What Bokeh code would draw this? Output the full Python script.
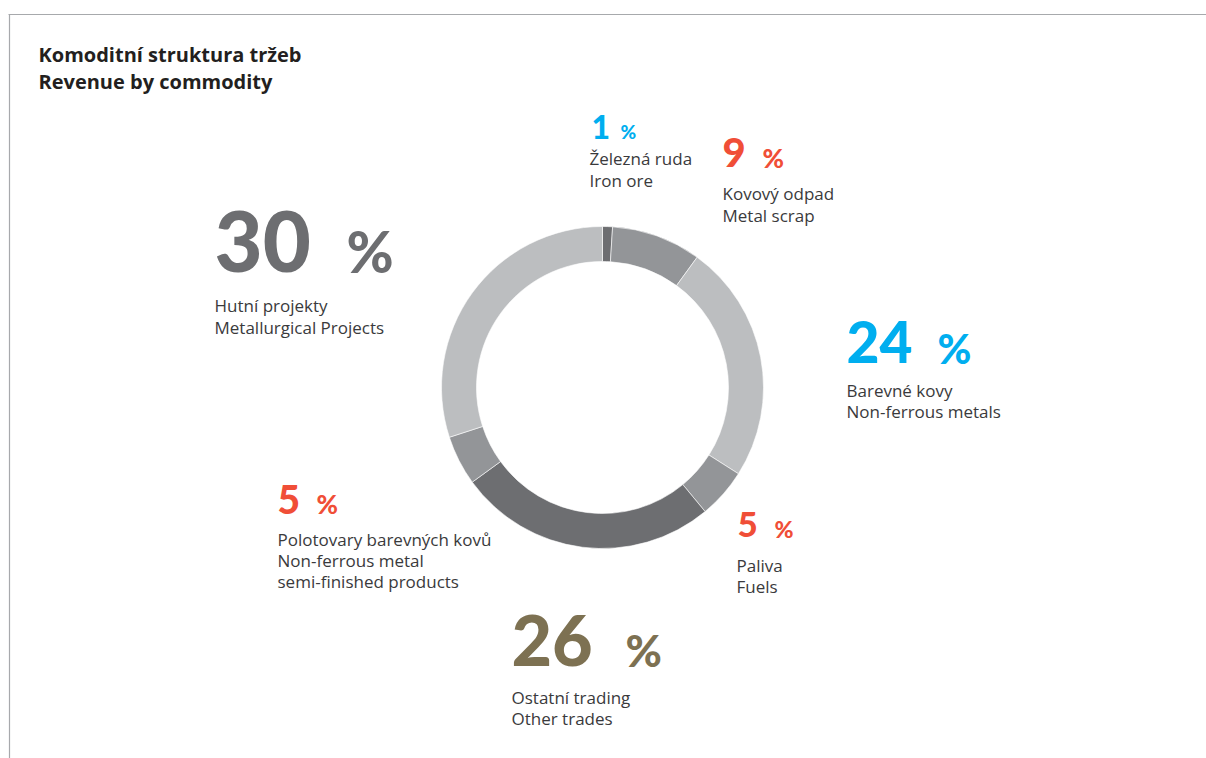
from bokeh.plotting import figure
from bokeh.models import Range1d, ColumnDataSource
from bokeh.embed import file_html
from bokeh.resources import INLINE
from bokeh.core.properties import value
import math

# ---- data ----
labels_cz = ["Železná ruda", "Kovový odpad", "Barevné kovy", "Paliva",
             "Ostatní trading", "Polotovary barevných kovů", "Hutní projekty"]
labels_en = ["Iron ore", "Metal scrap", "Non-ferrous metals", "Fuels",
             "Other trades", "Non-ferrous metal\nsemi-finished products", "Metallurgical Projects"]
shares = [1, 9, 24, 5, 26, 5, 30]
wedge_colors = ["#6d6e71", "#939598", "#bcbec0", "#939598", "#6d6e71", "#939598", "#bcbec0"]
number_colors = ["#00aeef", "#f04e37", "#00aeef", "#f04e37", "#7d7152", "#f04e37", "#6d6e71"]
title_lines = ["Komoditní struktura tržeb", "Revenue by commodity"]

# ---- layout (page pixel positions) ----
W, H = 1206, 758
def fx(px):
    return px
def fy(py):
    return H - py

NUM_FONT = "Lato Black"
FONT = "Open Sans"
K_NUM = 0.37   # baseline correction (fraction of font size)
K_TXT = 0.42

def fyt(py, size, k):
    return fy(py - k * size)

center = (602, 387)
r_outer, r_inner = 161, 126

# per label: number x, % x, number baseline, number size, % size, label x, first label baseline, line step
label_layout = [
    (591, 620, 138, 32, 19, 589, 165, 22.5),
    (722, 762, 167, 40, 26, 722, 200, 22.5),
    (846, 937, 363, 57, 41, 846, 397, 21.5),
    (737, 774, 537, 35, 23, 736, 572, 21.5),
    (511, 625, 666, 70, 44, 511, 704, 21.5),
    (277, 316, 513, 39, 26, 277, 546, 21),
    (214, 346, 272, 83, 57, 214, 312, 22),
]

p = figure(width=W, height=H, x_range=Range1d(0, W), y_range=Range1d(0, H),
           output_backend="svg", toolbar_location=None, min_border=0)
p.axis.visible = False
p.grid.visible = False
p.outline_line_color = None
p.background_fill_color = "white"
p.border_fill_color = "white"

# frame lines
p.segment(x0=[fx(8)], y0=[fy(14)], x1=[fx(1206)], y1=[fy(14)], line_color="#a7a9ac", line_width=1.2)
p.segment(x0=[fx(9)], y0=[fy(14)], x1=[fx(9)], y1=[fy(760)], line_color="#a7a9ac", line_width=1.2)

# donut
starts, ends = [], []
cum = 0
total = sum(shares)
for s in shares:
    starts.append(math.pi / 2 - 2 * math.pi * cum / total)
    cum += s
    ends.append(math.pi / 2 - 2 * math.pi * cum / total)
src = ColumnDataSource(dict(x=[fx(center[0])] * len(shares), y=[fy(center[1])] * len(shares),
                            start=starts, end=ends, color=wedge_colors))
p.annular_wedge(x="x", y="y", inner_radius=r_inner, outer_radius=r_outer,
                inner_radius_units="screen", outer_radius_units="screen",
                start_angle="start", end_angle="end", direction="clock",
                fill_color="color", line_color="white", line_width=0.6, source=src)

# titles
for i, t in enumerate(title_lines):
    p.text(x=[fx(38)], y=[fyt(62 + 27 * i, 20, 0.39)], text=[t], text_font=value(FONT),
           text_font_style="bold", text_font_size="20px", text_color="#231f20",
           text_baseline="alphabetic", text_align="left")

# labels
LBL = 17
for i, s in enumerate(shares):
    nx, px_, nb, ns, ps, lx, lb, step = label_layout[i]
    p.text(x=[fx(nx)], y=[fyt(nb, ns, K_NUM)], text=[str(s)], text_font=value(NUM_FONT),
           text_font_style="normal", text_font_size=f"{ns}px", text_color=number_colors[i],
           text_baseline="alphabetic", text_align="left")
    p.text(x=[fx(px_)], y=[fyt(nb, ps, K_NUM)], text=["%"], text_font=value(NUM_FONT),
           text_font_style="normal", text_font_size=f"{ps}px", text_color=number_colors[i],
           text_baseline="alphabetic", text_align="left")
    lines = [labels_cz[i]] + labels_en[i].split("\n")
    for j, ln in enumerate(lines):
        p.text(x=[fx(lx)], y=[fyt(lb + step * j, LBL, K_TXT)], text=[ln], text_font=value(FONT),
               text_font_size=f"{LBL}px", text_color="#3a3a3c",
               text_baseline="alphabetic", text_align="left")

open("out.html", "w").write(file_html(p, INLINE))
